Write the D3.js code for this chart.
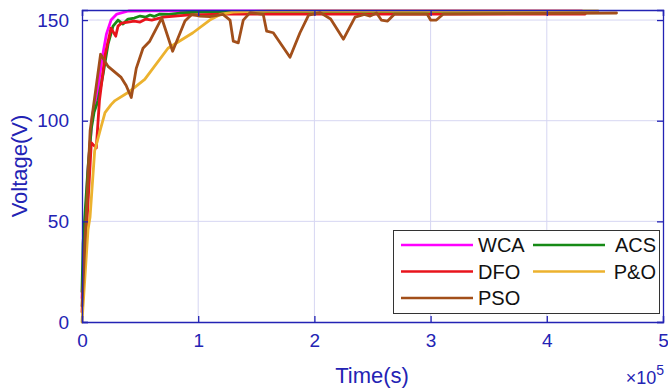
<!DOCTYPE html>
<html>
<head>
<meta charset="utf-8">
<script src="https://cdn.jsdelivr.net/npm/d3@7"></script>
<style>
  html, body { margin: 0; padding: 0; background: #fff; }
  svg { display: block; font-family: "Liberation Sans", Arial, sans-serif; }
</style>
</head>
<body>
<svg id="chart" width="668" height="388"></svg>
<script>
// Time is expressed in units of 1e5 s (axis multiplier shown at bottom right).
const wcaT = [0, 0.05, 0.09, 0.13, 0.17, 0.21, 0.25, 0.3, 0.4, 0.6, 4.3];
const wcaV = [12, 75, 103, 113, 130, 143, 150, 153, 154.5, 154.6, 154.6];

const acsT = [0, 0.009, 0.052, 0.08, 0.103, 0.138, 0.181, 0.224, 0.267, 0.31, 0.353, 0.396, 0.45, 0.5, 0.55, 0.585, 0.62, 0.67, 0.75, 0.84, 1.0, 4.2];
const acsV = [15, 39, 77, 96, 104, 110, 123, 138, 147, 150, 148, 150.5, 151, 152, 151.5, 152.5, 151.8, 153, 152.8, 153.5, 154, 154];

const dfoT = [0, 0.08, 0.123, 0.15, 0.2, 0.25, 0.29, 0.31, 0.34, 0.45, 0.5, 0.55, 0.6, 0.7, 0.9, 1.2, 4.33];
const dfoV = [5, 89, 86.5, 110, 133, 146, 142, 147, 148.5, 149.5, 149, 150.5, 150, 151.5, 152.5, 153, 153];

const poT = [0, 0.052, 0.069, 0.109, 0.16, 0.198, 0.25, 0.284, 0.396, 0.54, 0.74, 0.955, 1.1, 1.19, 1.3, 1.6, 4.44];
const poV = [0, 46, 52, 85, 96, 104, 108, 110, 114, 120.5, 136, 143.7, 150, 152.8, 154, 154.5, 154.5];

const psoT = [0, 0.07, 0.16, 0.224, 0.337, 0.38, 0.424, 0.467, 0.525, 0.583, 0.686, 0.78, 0.886, 0.944, 1.015, 1.1, 1.213, 1.274, 1.302, 1.345, 1.388, 1.446, 1.56, 1.589, 1.646, 1.79, 1.876, 1.95, 2.05, 2.14, 2.25, 2.35, 2.43, 2.48, 2.535, 2.576, 2.63, 2.69, 2.97, 3.0, 3.05, 3.11, 4.6];
const psoV = [8, 95, 133, 127, 121.5, 117.5, 111.5, 126, 136, 139.5, 151, 134.5, 149.5, 152.8, 152, 151.7, 152.8, 150, 139.5, 138.7, 150, 153.7, 152.8, 144.5, 143.7, 131.5, 143.7, 152.5, 153.7, 150.5, 140.5, 151.5, 152.8, 152, 153.5, 150, 149.5, 153, 153, 150, 150, 153, 153.5];

const xTicks = [0, 1, 2, 3, 4, 5];
const yTicks = [0, 50, 100, 150];

const series = [
  { name: "WCA", t: wcaT, v: wcaV, color: "#ff00ff" },
  { name: "ACS", t: acsT, v: acsV, color: "#168a16" },
  { name: "DFO", t: dfoT, v: dfoV, color: "#e8141c" },
  { name: "P&O", t: poT, v: poV, color: "#ecb22e" },
  { name: "PSO", t: psoT, v: psoV, color: "#a24f1a" }
];

const blue = "#2323b4";
const svg = d3.select("#chart");
const m = { left: 82, right: 5, top: 10, bottom: 66 };
const W = 668, H = 388;
const x = d3.scaleLinear().domain([0, 5]).range([m.left, W - m.right]);
const y = d3.scaleLinear().domain([0, 155]).range([H - m.bottom, m.top]);

// grid
const grid = svg.append("g").attr("stroke", "#d6d6f2").attr("stroke-width", 1);
xTicks.slice(1, -1).forEach(t => grid.append("line")
  .attr("x1", x(t)).attr("x2", x(t)).attr("y1", y(0)).attr("y2", y(155)));
yTicks.slice(1).forEach(t => grid.append("line")
  .attr("x1", x(0)).attr("x2", x(5)).attr("y1", y(t)).attr("y2", y(t)));

// series lines
const line = d3.line().x(d => x(d[0])).y(d => y(d[1]));
const lines = svg.append("g").attr("fill", "none").attr("stroke-width", 2.8)
  .attr("stroke-linejoin", "round").attr("stroke-linecap", "round");
series.forEach(s => {
  lines.append("path")
    .attr("d", line(s.t.map((t, i) => [t, s.v[i]])))
    .attr("stroke", s.color);
});

// axes (box with inward ticks)
const tickSize = -6;
const xAxis = d3.axisBottom(x).tickValues(xTicks).tickSize(tickSize).tickPadding(12).tickFormat(d3.format("d"));
const yAxis = d3.axisLeft(y).tickValues(yTicks).tickSize(tickSize).tickPadding(13).tickFormat(d3.format("d"));
const gx = svg.append("g").attr("transform", `translate(0,${y(0)})`).call(xAxis);
const gy = svg.append("g").attr("transform", `translate(${x(0)},0)`).call(yAxis);
const gxTop = svg.append("g").attr("transform", `translate(0,${y(155)})`)
  .call(d3.axisTop(x).tickValues(xTicks).tickSize(tickSize).tickFormat(""));
const gyRight = svg.append("g").attr("transform", `translate(${x(5)},0)`)
  .call(d3.axisRight(y).tickValues(yTicks).tickSize(tickSize).tickFormat(""));
[gx, gy, gxTop, gyRight].forEach(g => {
  g.selectAll("path, line").attr("stroke", blue).attr("stroke-width", 1.3);
  g.selectAll("text").attr("fill", blue).style("font-size", "19px")
    .style("font-family", "'Liberation Sans', Arial, sans-serif");
});

// axis titles
svg.append("text").attr("x", 372).attr("y", 383).attr("text-anchor", "middle")
  .attr("fill", blue).style("font-size", "22px").text("Time(s)");
svg.append("text").attr("transform", `translate(27,${(y(0) + y(155)) / 2}) rotate(-90)`)
  .attr("text-anchor", "middle").attr("fill", blue).style("font-size", "22px").text("Voltage(V)");
const mult = svg.append("text").attr("x", 664).attr("y", 384).attr("text-anchor", "end")
  .attr("fill", blue).style("font-size", "18px");
mult.append("tspan").text("×10");
mult.append("tspan").attr("dy", -9).style("font-size", "14px").text("5");

// legend (two columns, filled row by row)
const lg = svg.append("g");
lg.append("rect").attr("x", 393.5).attr("y", 230.5).attr("width", 266).attr("height", 83)
  .attr("fill", "#fff").attr("stroke", "#333").attr("stroke-width", 1);
const colX = [401, 533], rowY = [245, 271.5, 298];
series.forEach((s, i) => {
  const cx = colX[i % 2], cy = rowY[Math.floor(i / 2)];
  lg.append("line").attr("x1", cx).attr("x2", cx + 72).attr("y1", cy).attr("y2", cy)
    .attr("stroke", s.color).attr("stroke-width", 2.6);
  if (i % 2 === 0) {
    lg.append("text").attr("x", cx + 77).attr("y", cy + 7).attr("fill", "#111")
      .style("font-size", "20px").text(s.name);
  } else {
    lg.append("text").attr("x", 656).attr("y", cy + 7).attr("text-anchor", "end").attr("fill", "#111")
      .style("font-size", "20px").text(s.name);
  }
});
</script>
</body>
</html>
